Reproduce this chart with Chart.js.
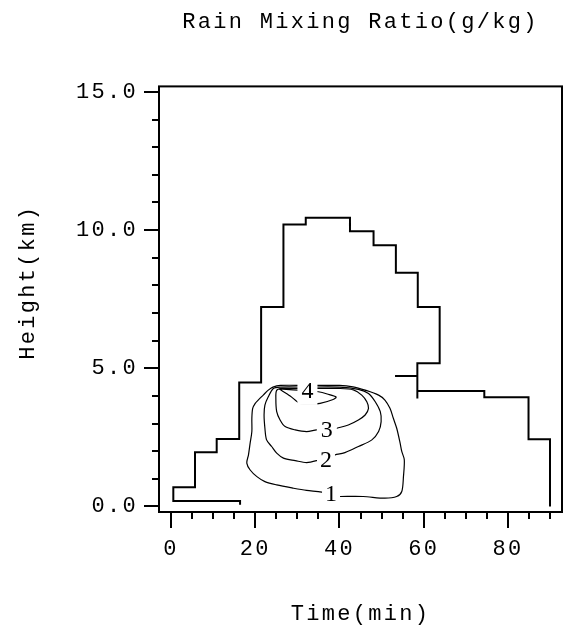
<!DOCTYPE html>
<html>
<head>
<meta charset="utf-8">
<script src="https://cdn.jsdelivr.net/npm/chart.js@4.4.1/dist/chart.umd.min.js"></script>
<style>
  html, body { margin: 0; padding: 0; background: #fff; }
  #wrap { width: 565px; height: 630px; }
</style>
</head>
<body>
<div id="wrap"><canvas id="rainChart"></canvas></div>
<script>
'use strict';

// ------------------------------------------------------- //
// Data (time in min, height in km)
// ------------------------------------------------------ //
var chartTitle = 'Rain Mixing Ratio(g/kg)';
var xTitle = 'Time(min)';
var yTitle = 'Height(km)';

var xTickVals = [0, 20, 40, 60, 80];
var xTickLabels = ['0', '20', '40', '60', '80'];
var xMinorTicks = [5, 10, 15, 25, 30, 35, 45, 50, 55, 65, 70, 75, 85, 90];
var yTickVals = [0, 5, 10, 15];
var yTickLabels = ['0.0', '5.0', '10.0', '15.0'];
var yMinorTicks = [1, 2, 3, 4, 6, 7, 8, 9, 11, 12, 13, 14];

// rain edge outline (staircase)
var edgeT = [16.4, 16.4, 0.55, 0.55, 5.7, 5.7, 10.85, 10.85, 16.2, 16.2, 21.4, 21.4, 26.7, 26.7,
             32.0, 32.0, 42.5, 42.5, 48.1, 48.1, 53.4, 53.4, 58.6, 58.6, 63.8, 63.8, 58.5, 58.5];
var edgeH = [0.06, 0.2, 0.2, 0.7, 0.7, 1.96, 1.96, 2.44, 2.44, 4.49, 4.49, 7.22, 7.22, 10.2,
             10.2, 10.45, 10.45, 9.96, 9.96, 9.45, 9.45, 8.46, 8.46, 7.22, 7.22, 5.18, 5.18, 3.91];
var stubT = [53.2, 58.5];
var stubH = [4.72, 4.72];
var tailT = [58.5, 74.4, 74.4, 84.9, 84.9, 90.0, 90.0];
var tailH = [4.18, 4.18, 3.95, 3.95, 2.43, 2.43, 0.0];

// contour 1 g/kg
var c1T = [40.2, 45.6, 50.8, 53.6, 54.8, 55.2, 55.4, 54.8, 54.4, 53.6, 52.8, 52.0, 50.8, 49.3, 46.1,
           43.2, 40.0, 32.0, 26.0, 24.2, 23.1, 21.9, 20.7, 20.0, 19.4, 19.2, 19.2, 18.8, 18.4, 18.0,
           18.8, 20.4, 22.3, 25.1, 29.1, 32.2, 35.8, 40.2];
var c1H = [0.36, 0.36, 0.30, 0.36, 0.54, 1.08, 1.69, 1.99, 2.30, 2.83, 3.19, 3.55, 3.85, 4.03, 4.21,
           4.33, 4.38, 4.38, 4.38, 4.32, 4.21, 4.03, 3.85, 3.73, 3.55, 3.19, 2.71, 2.30, 1.87, 1.57,
           1.32, 1.08, 0.90, 0.78, 0.66, 0.58, 0.52, 0.36];
// contour 2 g/kg
var c2T = [39.0, 41.3, 44.5, 47.7, 49.3, 49.9, 49.7, 48.5, 46.9, 44.5, 40.0, 32.0, 26.0, 24.3, 23.1,
           22.3, 22.1, 22.3, 22.7, 23.9, 25.1, 26.7, 29.5, 32.2, 34.6, 39.0];
var c2H = [1.87, 1.95, 2.17, 2.41, 2.71, 3.07, 3.43, 3.79, 4.09, 4.24, 4.32, 4.32, 4.32, 4.27, 3.97,
           3.67, 3.31, 2.83, 2.41, 2.17, 1.93, 1.75, 1.66, 1.59, 1.66, 1.87];
// contour 3 g/kg
var c3T = [39.4, 42.1, 44.5, 46.1, 46.9, 46.5, 45.3, 43.3, 40.0, 32.0, 26.5, 25.1, 24.9, 25.1, 25.9,
           27.1, 29.5, 32.2, 34.6, 39.4];
var c3H = [2.83, 2.95, 3.13, 3.31, 3.55, 3.79, 4.03, 4.22, 4.27, 4.27, 4.27, 4.20, 3.91, 3.43, 3.13,
           2.89, 2.77, 2.71, 2.77, 2.83];
// contour 4 g/kg
var c4T = [25.7, 28.3, 30.6, 33.0, 35.4, 38.5, 39.2, 37.1, 35.0, 32.0, 29.0, 25.7];
var c4H = [4.25, 4.00, 3.73, 3.70, 3.73, 3.87, 3.96, 4.07, 4.15, 4.20, 4.22, 4.25];

var contourLabels = ['1', '2', '3', '4'];
var contourLabelT = [38.0, 36.8, 37.0, 32.4];
var contourLabelH = [0.45, 1.68, 2.77, 4.18];


function toPoints(ts, hs) {
    return ts.map(function(t, i) { return {x: t, y: hs[i]}; });
}

var MONO = "'Liberation Mono', 'Courier New', monospace";

// ------------------------------------------------------- //
// Frame, tick marks, y title and contour labels
// ------------------------------------------------------ //
var frameAndTicks = {
    id: 'frameAndTicks',
    beforeDraw: function(chart) {
        chart.ctx.letterSpacing = '2.3px';
    },
    afterDatasetsDraw: function(chart) {
        var ctx = chart.ctx, xs = chart.scales.x, ys = chart.scales.y;
        var boxes = [[18, 16], [18, 16], [20, 16], [20, 28]];
        ctx.save();
        ctx.letterSpacing = '0px';
        ctx.font = "24px 'Liberation Serif', 'Times New Roman', serif";
        ctx.textAlign = 'center';
        ctx.textBaseline = 'middle';
        contourLabels.forEach(function(lab, i) {
            var px = xs.getPixelForValue(contourLabelT[i]);
            var py = ys.getPixelForValue(contourLabelH[i]);
            ctx.fillStyle = '#fff';
            ctx.fillRect(px - boxes[i][0] / 2, py - boxes[i][1] / 2, boxes[i][0], boxes[i][1]);
            ctx.fillStyle = '#000';
            ctx.fillText(lab, px, py + 1);
        });
        ctx.restore();
    },
    afterDraw: function(chart) {
        var ctx = chart.ctx, a = chart.chartArea, xs = chart.scales.x, ys = chart.scales.y;
        ctx.save();
        ctx.strokeStyle = '#000';
        ctx.lineWidth = 2;
        ctx.strokeRect(a.left, a.top, a.right - a.left, a.bottom - a.top);
        ctx.beginPath();
        yTickVals.forEach(function(v) {
            var p = Math.round(ys.getPixelForValue(v));
            ctx.moveTo(a.left - 15, p); ctx.lineTo(a.left, p);
        });
        yMinorTicks.forEach(function(v) {
            var p = Math.round(ys.getPixelForValue(v));
            ctx.moveTo(a.left - 7, p); ctx.lineTo(a.left, p);
        });
        xTickVals.forEach(function(v) {
            var p = Math.round(xs.getPixelForValue(v));
            ctx.moveTo(p, a.bottom); ctx.lineTo(p, a.bottom + 16);
        });
        xMinorTicks.forEach(function(v) {
            var p = Math.round(xs.getPixelForValue(v));
            ctx.moveTo(p, a.bottom); ctx.lineTo(p, a.bottom + 7);
        });
        ctx.stroke();

        // y axis title, sits a little above the plot centre
        ctx.letterSpacing = '2.3px';
        ctx.font = '22px ' + MONO;
        ctx.fillStyle = '#000';
        ctx.textAlign = 'center';
        ctx.textBaseline = 'middle';
        ctx.translate(28, (a.top + a.bottom) / 2 - 17);
        ctx.rotate(-Math.PI / 2);
        ctx.fillText(yTitle, 0, 0);
        ctx.restore();
    }
};

var lineStyle = {borderColor: '#000', pointRadius: 0, fill: false};

new Chart(document.getElementById('rainChart'), {
    type: 'line',
    data: {
        datasets: [
            Object.assign({label: 'edge', data: toPoints(edgeT, edgeH), borderWidth: 2, tension: 0}, lineStyle),
            Object.assign({label: 'stub', data: toPoints(stubT, stubH), borderWidth: 2, tension: 0}, lineStyle),
            Object.assign({label: 'tail', data: toPoints(tailT, tailH), borderWidth: 2, tension: 0}, lineStyle),
            Object.assign({label: '1', data: toPoints(c1T, c1H), borderWidth: 1.2, tension: 0.3}, lineStyle),
            Object.assign({label: '2', data: toPoints(c2T, c2H), borderWidth: 1.2, tension: 0.3}, lineStyle),
            Object.assign({label: '3', data: toPoints(c3T, c3H), borderWidth: 1.2, tension: 0.3}, lineStyle),
            Object.assign({label: '4', data: toPoints(c4T, c4H), borderWidth: 1.2, tension: 0.3}, lineStyle)
        ]
    },
    options: {
        responsive: true,
        maintainAspectRatio: false,
        animation: false,
        devicePixelRatio: 1,
        layout: {padding: {top: 0, right: 3, bottom: 0, left: 0}},
        plugins: {
            legend: {display: false},
            tooltip: {enabled: false},
            title: {
                display: true,
                text: chartTitle,
                fullSize: false,
                color: '#000',
                font: {family: MONO, size: 22, weight: 'normal'},
                padding: {top: 9, bottom: 51}
            }
        },
        scales: {
            x: {
                type: 'linear',
                min: -2.85,
                max: 92.85,
                afterFit: function(scale) { scale.height = 118; },
                afterBuildTicks: function(scale) {
                    scale.ticks = xTickVals.map(function(v) { return {value: v}; });
                },
                grid: {display: false, drawTicks: false},
                border: {display: false},
                ticks: {
                    color: '#000',
                    padding: 24,
                    maxRotation: 0,
                    font: {family: MONO, size: 22},
                    callback: function(v) {
                        var i = xTickVals.indexOf(v);
                        return i < 0 ? '' : xTickLabels[i];
                    }
                },
                title: {
                    display: true,
                    text: xTitle,
                    color: '#000',
                    font: {family: MONO, size: 22},
                    padding: {top: 0, bottom: 3}
                }
            },
            y: {
                type: 'linear',
                min: -0.2,
                max: 15.2,
                afterFit: function(scale) { scale.width = 159; },
                afterBuildTicks: function(scale) {
                    scale.ticks = yTickVals.map(function(v) { return {value: v}; });
                },
                grid: {display: false, drawTicks: false},
                border: {display: false},
                ticks: {
                    color: '#000',
                    padding: 21,
                    font: {family: MONO, size: 22},
                    callback: function(v) {
                        var i = yTickVals.indexOf(v);
                        return i < 0 ? '' : yTickLabels[i];
                    }
                }
            }
        }
    },
    plugins: [frameAndTicks]
});
</script>
</body>
</html>
